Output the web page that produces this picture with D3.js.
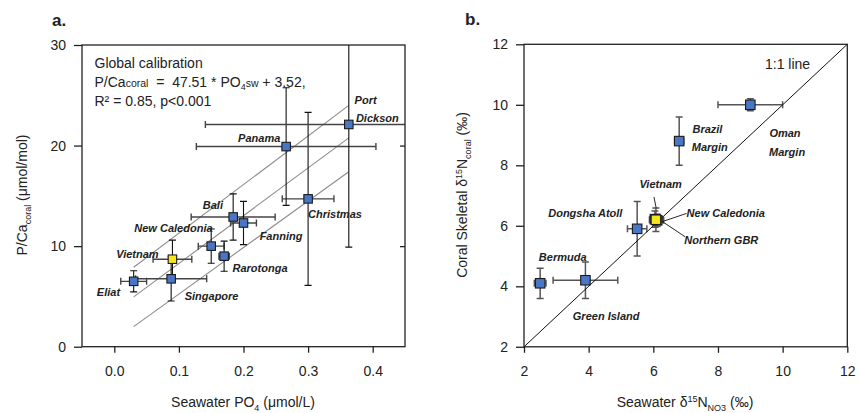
<!DOCTYPE html>
<html>
<head>
<meta charset="utf-8">
<script src="https://cdn.jsdelivr.net/npm/d3@7"></script>
<style>
    body { margin: 0; background: #fff; }
    svg { display: block; font-family: 'Liberation Sans', Arial, sans-serif; }
</style>
</head>
<body>
<svg id="chart" width="860" height="413"></svg>
<script>
// ---- panel a : P/Ca vs seawater PO4 ----
const sitesA = ['Eliat', 'Vietnam', 'Singapore', 'New Caledonia', 'Rarotonga', 'Bali', 'Fanning', 'Christmas', 'Panama', 'Port Dickson'];
const po4 = [0.03, 0.09, 0.088, 0.15, 0.17, 0.184, 0.2, 0.3, 0.266, 0.363];
const po4Err = [0.02, 0.03, 0.055, 0.02, 0.008, 0.065, 0.02, 0.04, 0.139, 0.222];
const pca = [6.5, 8.7, 6.75, 10.0, 9.0, 12.9, 12.3, 14.7, 19.9, 22.1];
const pcaErr = [1.05, 1.9, 2.2, 1.7, 1.5, 2.3, 2.15, 8.6, 5.85, 12.2];
const po4Ticks = [0.0, 0.1, 0.2, 0.3, 0.4];
const pcaTicks = [0, 10, 20, 30];
// regression line and its band, end points
const fitX = [0.03, 0.363];
const fitMid = [4.95, 20.77];
const fitUpper = [7.9, 24.0];
const fitLower = [2.0, 17.4];

// ---- panel b : d15N coral vs seawater ----
const sitesB = ['Bermuda', 'Green Island', 'Dongsha Atoll', 'Northern GBR', 'New Caledonia', 'Vietnam', 'Brazil Margin', 'Oman Margin'];
const d15nSw = [2.5, 3.9, 5.5, 6.12, 6.05, 6.08, 6.8, 9.0];
const d15nSwErr = [0.18, 1.0, 0.3, 0.2, 0.15, 0.2, 0.14, 1.0];
const d15nCoral = [4.1, 4.2, 5.9, 6.18, 6.22, 6.2, 8.8, 10.0];
const d15nCoralErr = [0.5, 0.6, 0.9, 0.2, 0.27, 0.39, 0.8, 0.2];
const d15nTicks = [2, 4, 6, 8, 10, 12];
const oneToOne = [2, 12];

const highlight = 'Vietnam';
const blue = '#4a76c6';
const yellow = '#f6e41c';

// text labels, placed in data units
const labelsA = [
    ['Port', 0.372, 24.1, 'start'],
    ['Dickson', 0.374, 22.3, 'start'],
    ['Panama', 0.257, 20.35, 'end'],
    ['Christmas', 0.300, 12.78, 'start'],
    ['Bali', 0.137, 13.73, 'start'],
    ['New Caledonia', 0.031, 11.44, 'start'],
    ['Fanning', 0.225, 10.62, 'start'],
    ['Vietnam', 0.003, 8.86, 'start'],
    ['Rarotonga', 0.183, 7.43, 'start'],
    ['Eliat', -0.027, 5.01, 'start'],
    ['Singapore', 0.109, 4.68, 'start']
];
const labelsB = [
    ['Brazil', 7.21, 9.07, 'start'],
    ['Margin', 7.19, 8.48, 'start'],
    ['Oman', 9.59, 8.93, 'start'],
    ['Margin', 9.58, 8.32, 'start'],
    ['Vietnam', 5.57, 7.24, 'start'],
    ['Dongsha Atoll', 2.75, 6.30, 'start'],
    ['New Caledonia', 7.03, 6.28, 'start'],
    ['Northern GBR', 6.96, 5.40, 'start'],
    ['Bermuda', 2.46, 4.85, 'start'],
    ['Green Island', 3.51, 2.89, 'start']
];
// leader lines [x1, y1, x2, y2]
const leadersB = [
    [6.02, 6.95, 6.09, 6.58],
    [7.03, 6.41, 6.28, 6.14],
    [6.98, 5.64, 6.28, 6.14]
];

const svg = d3.select('#chart');
const nb = '\u00a0';

function drawFrame(g, x, y, xTicks, yTicks, xFmt, rightTicks) {
    const [x0, x1] = x.range();
    const [y0, y1] = y.range();

    g.append('rect')
        .attr('x', x0).attr('y', y1)
        .attr('width', x1 - x0).attr('height', y0 - y1)
        .attr('fill', 'none')
        .attr('stroke', '#222')
        .attr('stroke-width', 1.3);

    const xa = g.append('g')
        .attr('transform', 'translate(0,' + y0 + ')')
        .call(d3.axisBottom(x).tickValues(xTicks).tickSize(6).tickSizeOuter(0).tickPadding(13).tickFormat(xFmt));
    const ya = g.append('g')
        .attr('transform', 'translate(' + x0 + ',0)')
        .call(d3.axisLeft(y).tickValues(yTicks).tickSize(8).tickSizeOuter(0).tickPadding(8));
    [xa, ya].forEach(a => {
        a.select('.domain').remove();
        a.selectAll('line').attr('stroke', '#222').attr('stroke-width', 1.3);
        a.selectAll('text')
            .attr('font-size', 14)
            .attr('font-family', "'Liberation Sans', Arial, sans-serif")
            .attr('fill', '#222');
    });

    if (rightTicks) {
        const ra = g.append('g')
            .attr('transform', 'translate(' + x1 + ',0)')
            .call(d3.axisLeft(y).tickValues(rightTicks).tickSize(5).tickFormat(''));
        ra.select('.domain').remove();
        ra.selectAll('line').attr('stroke', '#222').attr('stroke-width', 1.3);
    }
}

function drawErrors(g, pts, x, y, hStyle, vStyle) {
    const cap = 3.5;
    pts.forEach(p => {
        const cx = x(p.x), cy = y(p.y);
        const xl = x(p.x - p.xe), xr = x(p.x + p.xe);
        const yt = y(p.y + p.ye), yb = y(p.y - p.ye);
        const h = g.append('g').attr('stroke', hStyle[0]).attr('stroke-width', hStyle[1]);
        h.append('line').attr('x1', xl).attr('x2', xr).attr('y1', cy).attr('y2', cy);
        [xl, xr].forEach(v => h.append('line').attr('x1', v).attr('x2', v).attr('y1', cy - cap).attr('y2', cy + cap));
        const v = g.append('g').attr('stroke', vStyle[0]).attr('stroke-width', vStyle[1]);
        v.append('line').attr('x1', cx).attr('x2', cx).attr('y1', yt).attr('y2', yb);
        [yt, yb].forEach(w => v.append('line').attr('x1', cx - cap).attr('x2', cx + cap).attr('y1', w).attr('y2', w));
    });
}

function drawSquares(g, pts, x, y, size) {
    g.selectAll('rect.pt')
        .data(pts)
        .join('rect')
        .attr('class', 'pt')
        .attr('x', d => x(d.x) - size / 2)
        .attr('y', d => y(d.y) - size / 2)
        .attr('width', size)
        .attr('height', size)
        .attr('fill', d => d.name === highlight ? yellow : blue)
        .attr('stroke', '#1a1a1a')
        .attr('stroke-width', 1.1);
}

function drawLabels(g, labels, x, y) {
    g.selectAll('text.site')
        .data(labels)
        .join('text')
        .attr('class', 'site')
        .attr('x', d => x(d[1]))
        .attr('y', d => y(d[2]))
        .attr('text-anchor', d => d[3])
        .attr('font-size', 11)
        .attr('font-weight', 'bold')
        .attr('font-style', 'italic')
        .attr('fill', '#222')
        .text(d => d[0]);
}

function clipFor(id, x, y) {
    const [x0, x1] = x.range();
    const [y0, y1] = y.range();
    svg.append('defs').append('clipPath').attr('id', id)
        .append('rect')
        .attr('x', x0).attr('y', y1)
        .attr('width', x1 - x0).attr('height', y0 - y1);
    return 'url(#' + id + ')';
}

// ================= panel a =================
const xA = d3.scaleLinear().domain([-0.05, 0.45]).range([82, 405]);
const yA = d3.scaleLinear().domain([0, 30]).range([346.7, 45]);
const ptsA = sitesA.map((s, i) => ({name: s, x: po4[i], xe: po4Err[i], y: pca[i], ye: pcaErr[i]}));

const gA = svg.append('g');
const plotA = gA.append('g').attr('clip-path', clipFor('clipA', xA, yA));

[fitUpper, fitMid, fitLower].forEach(f => {
    plotA.append('line')
        .attr('x1', xA(fitX[0])).attr('y1', yA(f[0]))
        .attr('x2', xA(fitX[1])).attr('y2', yA(f[1]))
        .attr('stroke', '#8c8c8c')
        .attr('stroke-width', 1.1);
});
drawErrors(plotA, ptsA, xA, yA, ['#444', 1.4], ['#111', 1.1]);
drawSquares(plotA, ptsA.filter(d => d.name !== highlight).concat(ptsA.filter(d => d.name === highlight)), xA, yA, 8.5);
drawFrame(gA, xA, yA, po4Ticks, pcaTicks, d3.format('.1f'), [10, 20]);
drawLabels(gA, labelsA, xA, yA);

// calibration text
const cal = gA.append('g').attr('font-size', 14).attr('fill', '#222');
cal.append('text').attr('x', 94.5).attr('y', 67.5).text('Global calibration');
const eq = cal.append('text').attr('x', 94.5).attr('y', 86.5);
eq.append('tspan').text('P/Ca');
eq.append('tspan').attr('font-size', 10.5).text('coral');
eq.append('tspan').text(nb + nb + '=' + nb + nb + '47.51 * PO');
eq.append('tspan').attr('font-size', 9).attr('dy', 3).text('4');
eq.append('tspan').attr('font-size', 10.5).attr('dy', -3).text('sw');
eq.append('tspan').text(' + 3.52,');
cal.append('text').attr('x', 94.5).attr('y', 105.5).text('R\u00b2 = 0.85, p<0.001');

// axis titles a
const xtA = gA.append('text')
    .attr('x', 243).attr('y', 407)
    .attr('text-anchor', 'middle')
    .attr('font-size', 14).attr('fill', '#222');
xtA.append('tspan').text('Seawater PO');
xtA.append('tspan').attr('font-size', 9).attr('dy', 4).text('4');
xtA.append('tspan').attr('dy', -4).text(' (\u03bcmol/L)');

const ytA = gA.append('text')
    .attr('transform', 'translate(27,195) rotate(-90)')
    .attr('text-anchor', 'middle')
    .attr('font-size', 14).attr('fill', '#222');
ytA.append('tspan').text('P/Ca');
ytA.append('tspan').attr('font-size', 9).attr('dy', 4).text('coral');
ytA.append('tspan').attr('dy', -4).text(' (\u03bcmol/mol)');

gA.append('text').attr('x', 52).attr('y', 26)
    .attr('font-size', 17).attr('font-weight', 'bold').attr('fill', '#222').text('a.');

// ================= panel b =================
const xB = d3.scaleLinear().domain([2, 12]).range([524, 847.3]);
const yB = d3.scaleLinear().domain([2, 12]).range([346.8, 44.3]);
const ptsB = sitesB.map((s, i) => ({name: s, x: d15nSw[i], xe: d15nSwErr[i], y: d15nCoral[i], ye: d15nCoralErr[i]}));

const gB = svg.append('g');
const plotB = gB.append('g').attr('clip-path', clipFor('clipB', xB, yB));

drawErrors(plotB, ptsB, xB, yB, ['#555', 1.5], ['#555', 1.5]);
plotB.append('line')
    .attr('x1', xB(oneToOne[0])).attr('y1', yB(oneToOne[0]))
    .attr('x2', xB(oneToOne[1])).attr('y2', yB(oneToOne[1]))
    .attr('stroke', '#111')
    .attr('stroke-width', 1);
drawSquares(plotB, ptsB, xB, yB, 9.5);

leadersB.forEach(l => {
    gB.append('line')
        .attr('x1', xB(l[0])).attr('y1', yB(l[1]))
        .attr('x2', xB(l[2])).attr('y2', yB(l[3]))
        .attr('stroke', '#111')
        .attr('stroke-width', 0.9);
});
drawFrame(gB, xB, yB, d15nTicks, d15nTicks, d3.format('d'), null);
drawLabels(gB, labelsB, xB, yB);

gB.append('text').attr('x', 765).attr('y', 68.5)
    .attr('font-size', 14).attr('fill', '#222').text('1:1 line');

const xtB = gB.append('text')
    .attr('x', 685).attr('y', 407)
    .attr('text-anchor', 'middle')
    .attr('font-size', 14).attr('fill', '#222');
xtB.append('tspan').text('Seawater \u03b4');
xtB.append('tspan').attr('font-size', 9).attr('dy', -5).text('15');
xtB.append('tspan').attr('dy', 5).text('N');
xtB.append('tspan').attr('font-size', 9).attr('dy', 4).text('NO3');
xtB.append('tspan').attr('dy', -4).text(' (\u2030)');

const ytB = gB.append('text')
    .attr('transform', 'translate(467,195) rotate(-90)')
    .attr('text-anchor', 'middle')
    .attr('font-size', 14).attr('fill', '#222');
ytB.append('tspan').text('Coral Skeletal \u03b4');
ytB.append('tspan').attr('font-size', 9).attr('dy', -5).text('15');
ytB.append('tspan').attr('dy', 5).text('N');
ytB.append('tspan').attr('font-size', 9).attr('dy', 4).text('coral');
ytB.append('tspan').attr('dy', -4).text(' (\u2030)');

gB.append('text').attr('x', 465).attr('y', 25)
    .attr('font-size', 17).attr('font-weight', 'bold').attr('fill', '#222').text('b.');
</script>
</body>
</html>
